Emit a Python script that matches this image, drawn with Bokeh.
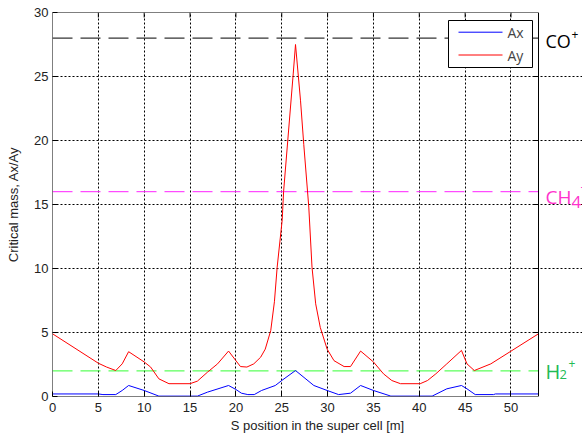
from bokeh.plotting import figure
from bokeh.models import Range1d, FixedTicker, Label
from bokeh.core.properties import value
from bokeh.embed import file_html
from bokeh.resources import INLINE

# Data
x_ay = [0, 5, 5.9, 6.9, 7.6, 8.3, 10, 10.7, 11.6, 12.7, 15, 15.8, 16.9, 18.0, 19.2, 20.0, 20.5,
        21.2, 21.95, 22.7, 23.2, 23.8, 24.2, 24.5, 25.05, 25.2, 26.25, 26.5, 27.05, 27.4, 27.95,
        28.3, 28.7, 29.2, 29.95, 30.7, 31.8, 32.5, 33.6, 35.0, 36.1, 37.0, 37.95, 40.1, 40.9,
        41.8, 43.0, 44.6, 45.2, 46.0, 47.8, 53]
y_ay = [4.9, 2.6, 2.3, 2.03, 2.55, 3.5, 2.7, 2.3, 1.38, 1.0, 1.0, 1.2, 1.9, 2.55, 3.55, 2.8, 2.34,
        2.3, 2.55, 3.07, 3.7, 5.15, 7.4, 10.1, 13.8, 16.0, 25.2, 27.5, 23.1, 19.7, 14.8,
        10.1, 7.24, 5.4, 3.7, 2.8, 2.34, 2.34, 3.55, 2.7, 1.77, 1.25, 1.0, 1.0, 1.25,
        1.77, 2.55, 3.6, 2.55, 2.03, 2.55, 4.9]
x_ax = [0, 5, 5.5, 6.9, 7.6, 8.3, 10, 11.6, 15.8, 16.9, 19.2, 20.0, 20.6, 21.3, 22.0, 22.8, 24.3,
        25.0, 26.5, 28.5, 29.95, 31.2, 32.5, 33.6, 35.0, 36.9, 41.4, 43.0, 44.6, 45.2, 46.1,
        48.1, 48.3, 53]
y_ax = [0.2, 0.2, 0.15, 0.15, 0.47, 0.86, 0.47, 0.03, 0.03, 0.34, 0.86, 0.55, 0.26, 0.15, 0.15,
        0.47, 0.86, 1.25, 2.03, 0.86, 0.47, 0.15, 0.26, 0.86, 0.47, 0.03, 0.03, 0.6, 0.86, 0.6,
        0.15, 0.15, 0.2, 0.2]
series_names = ["Ax", "Ay"]
series_colors = ["#0000ff", "#ff0000"]
ion_levels = [28, 16, 2]
ion_line_colors = ["#000000", "#ff22ff", "#33ff33"]
x_ticks = [0, 5, 10, 15, 20, 25, 30, 35, 40, 45, 50]
y_ticks = [0, 5, 10, 15, 20, 25, 30]
X_MAX = 53
Y_MAX = 30

FONT = "Liberation Sans"
W, H = 582, 441
BL, BR, BT, BB = 52, 0, 12, 45
frame_w = W - BL - BR
frame_h = H - BT - BB
plot_w = 486                      # width of the axes box in pixels
x_end = X_MAX * frame_w / plot_w  # extra room on the right for the ion labels
px_x = plot_w / X_MAX
px_y = frame_h / Y_MAX

p = figure(width=W, height=H, output_backend="svg", toolbar_location=None,
           x_range=Range1d(0, x_end), y_range=Range1d(0, Y_MAX),
           min_border_left=BL, min_border_right=BR, min_border_top=BT, min_border_bottom=BB)
p.background_fill_color = "white"
p.border_fill_color = "white"
p.outline_line_color = None

for ax in (p.xaxis[0], p.yaxis[0]):
    ax.major_tick_in = 5
    ax.major_tick_out = 0
    ax.minor_tick_in = 0
    ax.minor_tick_out = 0
    ax.axis_line_color = None
    ax.major_tick_line_color = "black"
    ax.major_label_text_font = FONT
    ax.major_label_text_font_size = "13px"
    ax.major_label_text_color = "#222222"
    ax.axis_label_text_font = FONT
    ax.axis_label_text_font_size = "13px"
    ax.axis_label_text_font_style = "normal"
    ax.axis_label_text_color = "#222222"

p.xaxis[0].ticker = FixedTicker(ticks=x_ticks)
p.yaxis[0].ticker = FixedTicker(ticks=y_ticks)
p.xaxis[0].axis_label = "S position in the super cell [m]"
p.yaxis[0].axis_label = "Critical mass, Ax/Ay"
p.xaxis[0].major_label_standoff = 6
p.xaxis[0].axis_label_standoff = 3
p.yaxis[0].major_label_standoff = 4
p.yaxis[0].axis_label_standoff = 10

p.xgrid.ticker = FixedTicker(ticks=x_ticks)
p.ygrid.ticker = FixedTicker(ticks=y_ticks)
p.ygrid.bounds = (0, X_MAX)
for g in (p.xgrid[0], p.ygrid[0]):
    g.grid_line_color = "black"
    g.grid_line_dash = "2 2"
    g.grid_line_width = 1

# ion reference lines
p.segment(x0=[0] * len(ion_levels), x1=[X_MAX] * len(ion_levels), y0=ion_levels, y1=ion_levels,
          line_color=ion_line_colors, line_dash="20 8", line_width=1)

# data lines
p.line(x_ax, y_ax, line_color=series_colors[0], line_width=1)
p.line(x_ay, y_ay, line_color=series_colors[1], line_width=1)

# axes box
p.segment(x0=[0, 0, 0, X_MAX], x1=[X_MAX, X_MAX, 0, X_MAX], y0=[0, Y_MAX, 0, 0],
          y1=[0, Y_MAX, Y_MAX, Y_MAX], line_color="black", line_width=1)
# inward ticks on top and right
tx = [t for t in x_ticks if 0 < t < X_MAX]
p.segment(x0=tx, x1=tx, y0=[Y_MAX] * len(tx), y1=[Y_MAX - 5 / px_y] * len(tx),
          line_color="black", line_width=1)
ty = [t for t in y_ticks if 0 < t < Y_MAX]
p.segment(x0=[X_MAX] * len(ty), x1=[X_MAX - 5 / px_x] * len(ty), y0=ty, y1=ty,
          line_color="black", line_width=1)

# legend box (pixel layout converted through the scales)
p.quad(left=[396 / px_x], right=[480 / px_x], top=[Y_MAX - 8 / px_y], bottom=[Y_MAX - 55 / px_y],
       fill_color="white", line_color="black", line_width=1)
row_y = [Y_MAX - 19.7 / px_y, Y_MAX - 42.5 / px_y]
p.segment(x0=[406 / px_x] * 2, x1=[450 / px_x] * 2, y0=row_y, y1=row_y,
          line_color=series_colors, line_width=1)
p.text(x=[455 / px_x] * 2, y=row_y, text=series_names, text_font=value("Open Sans"),
       text_font_size="14px", text_color="#444444", text_baseline="middle", text_align="left")

# Right-side ion labels
LF = "Open Sans"
def lab(y, txt, col, size, xo, yo):
    p.add_layout(Label(x=X_MAX, y=y, text=txt, text_color=col, text_font=LF,
                       text_font_size=size, x_offset=xo, y_offset=yo,
                       text_baseline="alphabetic"))

lab(28, "CO", "#000000", "18px", 7, -3)
lab(28, "+", "#000000", "12px", 33, 4)
lab(16, "CH", "#ff33cc", "19px", 7, -5)
lab(16, "4", "#ff33cc", "17px", 33, -10)
lab(16, "+", "#ff33cc", "12px", 42, 4)
lab(2, "H", "#22bb55", "20px", 7, -1)
lab(2, "2", "#22bb55", "13px", 21, -4)
lab(2, "+", "#22bb55", "12px", 30, 7)

open("out.html", "w").write(file_html(p, INLINE))
